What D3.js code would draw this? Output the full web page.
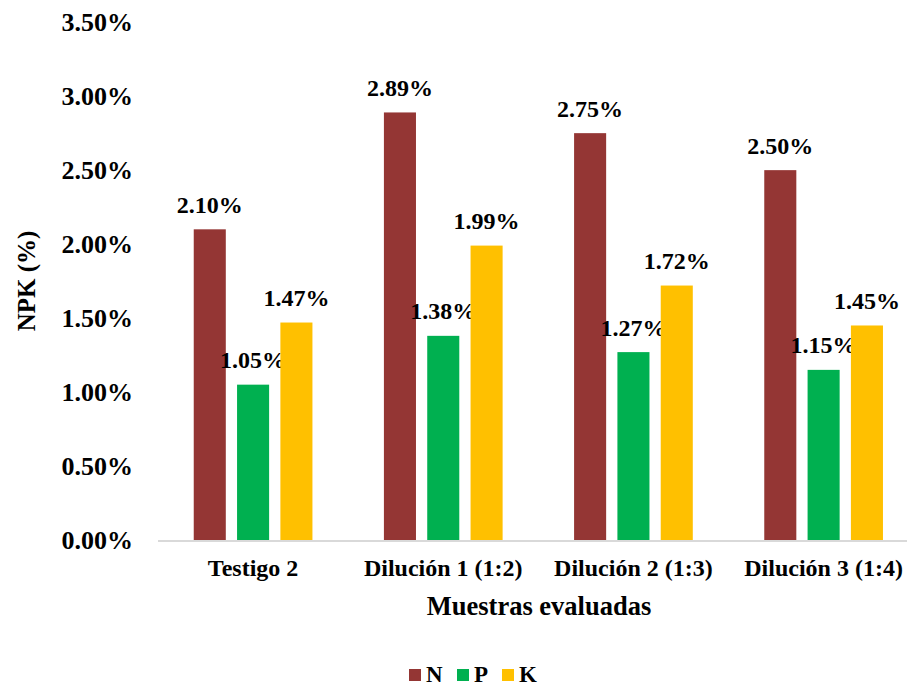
<!DOCTYPE html>
<html><head><meta charset="utf-8">
<script src="https://cdn.jsdelivr.net/npm/d3@7"></script>
<style>body{margin:0;background:#fff}svg{display:block}text{font-family:"Liberation Serif","Times New Roman",serif;font-weight:bold;fill:#000}</style>
</head><body><div id="chart"></div>
<script>
const categories = ["Testigo 2", "Dilución 1 (1:2)", "Dilución 2 (1:3)", "Dilución 3 (1:4)"];
const seriesNames = ["N", "P", "K"];
const seriesColors = ["#943634", "#00B050", "#FFC000"];
const valuesN = [2.10, 2.89, 2.75, 2.50];
const valuesP = [1.05, 1.38, 1.27, 1.15];
const valuesK = [1.47, 1.99, 1.72, 1.45];
const yTicks = [0, 0.5, 1.0, 1.5, 2.0, 2.5, 3.0, 3.5];

(function () {
const W = 907, H = 686;
const svg = d3.select("#chart").append("svg").attr("width", W).attr("height", H);
const mLeft = 158, mRight = 918.7, mTop = 22.2, mBottom = 540;
const x = d3.scaleBand().domain(categories).range([mLeft, mRight]).paddingInner(0).paddingOuter(0);
const y = d3.scaleLinear().domain([0, 3.5]).range([mBottom, mTop]);
const groupW = 118.7;
const xs = d3.scaleBand().domain(seriesNames).range([0, groupW]).paddingInner(0.26).paddingOuter(0);
const allVals = [valuesN, valuesP, valuesK];
const fmt = v => v.toFixed(2) + "%";

svg.append("g").selectAll("text").data(yTicks).join("text")
  .attr("x", 133).attr("y", d => y(d)).attr("dy", "0.35em")
  .attr("text-anchor", "end").style("font-size", "26px").text(d => fmt(d));

seriesNames.forEach((s, si) => {
  const g = svg.append("g");
  const vals = allVals[si];
  g.selectAll("rect").data(categories).join("rect")
    .attr("x", c => x(c) + (x.bandwidth() - groupW) / 2 + xs(s))
    .attr("y", (c, i) => y(vals[i]))
    .attr("width", xs.bandwidth())
    .attr("height", (c, i) => mBottom - y(vals[i]))
    .attr("fill", seriesColors[si]);
  g.selectAll("text").data(categories).join("text")
    .attr("x", c => x(c) + (x.bandwidth() - groupW) / 2 + xs(s) + xs.bandwidth() / 2)
    .attr("y", (c, i) => y(vals[i]) - 16.5)
    .attr("text-anchor", "middle").style("font-size", "24px")
    .text((c, i) => fmt(vals[i]));
});

svg.append("line").attr("x1", mLeft).attr("x2", mRight).attr("y1", mBottom + 1).attr("y2", mBottom + 1)
  .attr("stroke", "#d9d9d9").attr("stroke-width", 2);

svg.append("g").selectAll("text").data(categories).join("text")
  .attr("x", c => x(c) + x.bandwidth() / 2).attr("y", 576)
  .attr("text-anchor", "middle").style("font-size", "24px").text(d => d);

svg.append("text").attr("x", 539).attr("y", 615).attr("text-anchor", "middle")
  .style("font-size", "26.5px").text("Muestras evaluadas");
svg.append("text").attr("transform", "translate(35,281) rotate(-90)").attr("text-anchor", "middle")
  .style("font-size", "25px").text("NPK (%)");

const legendX = [409, 457, 502];
const lg = svg.append("g");
seriesNames.forEach((s, i) => {
  lg.append("rect").attr("x", legendX[i]).attr("y", 669).attr("width", 12).attr("height", 12).attr("fill", seriesColors[i]);
  lg.append("text").attr("x", legendX[i] + 17).attr("y", 682).style("font-size", "23px").text(s);
});
})();
</script></body></html>
